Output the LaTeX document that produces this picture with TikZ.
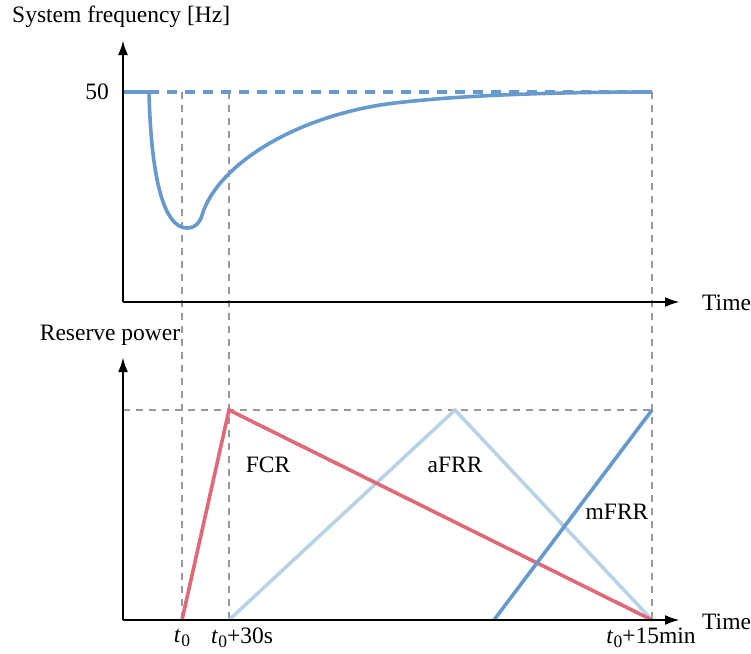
\documentclass[tikz,border=0pt]{standalone}
\usepackage{fontspec}
\setmainfont{Liberation Serif}
\usetikzlibrary{arrows.meta}
\definecolor{fblue}{HTML}{6699CC}
\definecolor{fred}{HTML}{E06878}
\definecolor{flight}{HTML}{B8D3E8}
\definecolor{fgray}{HTML}{999999}
\newcommand\tzero{\textit{t}\kern0.3pt\raisebox{-0.35ex}{\fontsize{17.5}{20}\selectfont 0}}
\begin{document}
\begin{tikzpicture}[x=1pt,y=-1pt,
  every node/.style={font=\fontsize{23.5}{28}\selectfont, inner sep=0pt},
  axis/.style={line width=2.6pt, -{Latex[length=15pt,width=10pt]}},
  guide/.style={fgray, line width=1.8pt, dash pattern=on 7pt off 6pt},
  curve/.style={line width=3.6pt}]
\useasboundingbox (0,0) rectangle (751,653);
% coordinates
\coordinate (O1) at (123,302);
\coordinate (Y1) at (123,40);
\coordinate (X1) at (680,302);
\coordinate (O2) at (123,620);
\coordinate (Y2) at (123,357);
\coordinate (X2) at (680,620);
\coordinate (a) at (182,92);
\coordinate (b) at (229,92);
\coordinate (c) at (652,92);
\coordinate (ab) at (182,620);
\coordinate (bb) at (229,620);
\coordinate (cb) at (652,620);
\coordinate (L) at (123,410);
\coordinate (Pk) at (229,410);
\coordinate (Pa) at (455,410);
\coordinate (Pm) at (652,410);
\coordinate (Sm) at (494,620);
\coordinate (s) at (149,92);
\coordinate (f0) at (123,92);
% guides
\draw[guide] (a) -- (ab);
\draw[guide] (b) -- (bb);
\draw[guide] (c) -- (cb);
\draw[guide] (L) -- (Pm);
% frequency
\draw[fblue, curve] (f0) -- (s);
\draw[fblue, curve, dash pattern=on 10pt off 8pt] (s) -- (c);
\draw[fblue, curve, line join=round] (s) .. controls (151,175) and (163,228) .. (187,228)
  .. controls (197,228) and (201,220) .. (203,212)
  .. controls (220,165) and (290,120) .. (380,105)
  .. controls (450,95) and (560,92) .. (c);
% reserves
\draw[flight, curve] (bb) -- (Pa) -- (cb);
\draw[fred, curve] (ab) -- (Pk) -- (cb);
\draw[fblue, curve] (Sm) -- (Pm);
% axes
\draw[axis] (O1) -- (Y1);
\draw[axis] (O1) -- (X1);
\draw[axis] (O2) -- (Y2);
\draw[axis] (O2) -- (X2);
% labels
\node[anchor=west] (lf) at (12,17) {System frequency [Hz]};
\node[anchor=east] (l50) at (109,92) {50};
\node[anchor=west] (lt1) at (702,303) {Time};
\node[anchor=west] (lt2) at (702,622) {Time};
\node (lr) at (110,335) {Reserve power};
\node (lfcr) at (268,465) {FCR};
\node (lafrr) at (455,465) {aFRR};
\node (lmfrr) at (617,512) {mFRR};
\node (t0) at (182,638) {\tzero};
\node (t30) at (242,638) {\tzero+30s};
\node (t15) at (651,638) {\tzero+15min};
\end{tikzpicture}
\end{document}
